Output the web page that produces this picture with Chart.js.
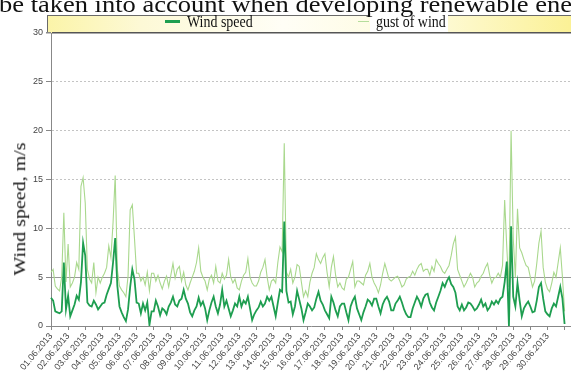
<!DOCTYPE html>
<html><head><meta charset="utf-8">
<script src="https://cdn.jsdelivr.net/npm/chart.js@4.4.0/dist/chart.umd.min.js"></script>
<style>
html,body{margin:0;padding:0;background:#fff;overflow:hidden;}
#wrap{position:relative;width:571px;height:372px;overflow:hidden;background:#fff;}
canvas{position:absolute;left:0;top:0;}
.t{position:absolute;white-space:nowrap;font-family:'Liberation Serif','Times New Roman',serif;color:#111;}
#head{left:-1px;top:-8px;font-size:24px;line-height:24px;transform-origin:0 0;}
#ytitle{left:20px;top:209px;font-size:20px;line-height:20px;transform:translate(-50%,-50%) rotate(-90deg) scaleY(0.8);}
.lg{top:12.5px;font-size:17px;line-height:17px;transform:scaleX(0.82);transform-origin:0 0;}
.sw{position:absolute;}
</style></head><body>
<div id="wrap">
<canvas id="c" width="571" height="372"></canvas>
<div id="head" class="t">be taken into account when developing renewable ene</div>
<div id="ytitle" class="t">Wind speed, m/s</div>
<div class="sw" style="left:165px;top:20px;width:15px;height:2.5px;background:#1e9e50"></div>
<div class="t lg" style="left:187px">Wind speed</div>
<div class="sw" style="left:358px;top:20.5px;width:11px;height:1.5px;background:#b5dd9c"></div>
<div class="t lg" style="left:376px">gust of wind</div>
</div>
<script>
const days = ["01.06.2013","02.06.2013","03.06.2013","04.06.2013","05.06.2013","06.06.2013","07.06.2013","08.06.2013","09.06.2013","10.06.2013",
"11.06.2013","12.06.2013","13.06.2013","14.06.2013","15.06.2013","16.06.2013","17.06.2013","18.06.2013","19.06.2013","20.06.2013",
"21.06.2013","22.06.2013","23.06.2013","24.06.2013","25.06.2013","26.06.2013","27.06.2013","28.06.2013","29.06.2013","30.06.2013"];
const hours = ["00:00","03:00","06:00","09:00","12:00","15:00","18:00","21:00"];
const yTicks = [0,5,10,15,20,25,30];

// 3-hourly wind speed, m/s
const windSpeed = [
2.9,2.6,1.5,1.4,1.3,1.5,6.5,1.7,
3.1,1.0,1.6,2.2,3.1,2.7,4.5,8.5,
7.2,2.4,2.1,2.0,2.6,2.2,1.7,2.0,
2.3,2.4,3.2,3.8,4.4,6.5,9.0,4.1,
2.0,1.4,0.9,0.5,1.7,4.0,5.8,4.8,
2.4,2.3,1.3,2.3,1.6,2.4,0.1,1.5,
1.5,2.6,2.0,1.1,1.8,1.6,1.2,2.0,
2.4,3.0,2.2,2.0,2.6,2.8,3.7,2.8,
2.3,1.4,1.0,1.6,2.0,2.9,2.1,2.5,
1.8,0.6,1.6,2.4,3.0,2.0,1.3,2.2,
3.7,2.0,2.6,1.8,1.0,1.6,2.3,2.0,
3.0,2.0,2.6,2.3,3.0,1.8,0.6,1.2,
1.6,1.9,2.5,2.0,2.3,3.0,2.6,3.0,
2.0,1.0,2.4,3.7,3.5,10.7,3.6,2.4,
2.5,1.2,2.0,3.6,2.7,1.8,0.6,1.4,
2.3,2.0,1.6,1.9,2.8,3.5,2.6,2.2,
1.6,1.2,0.8,3.0,2.4,1.6,1.0,2.0,
2.3,2.3,1.4,0.6,2.0,2.6,3.0,1.8,
1.2,0.6,1.4,2.0,2.7,2.5,2.1,2.8,
2.8,2.0,1.3,2.2,2.7,3.0,2.5,1.6,
1.6,2.3,2.6,3.0,2.4,1.7,1.2,0.9,
0.9,1.8,2.4,3.0,2.6,2.0,2.8,3.2,
3.3,2.4,1.9,1.6,2.4,3.0,3.6,4.4,
4.0,4.6,5.0,4.3,4.0,3.4,2.0,1.6,
2.2,1.6,1.9,2.4,2.3,2.0,1.6,1.8,
2.2,2.7,2.0,2.3,1.6,1.9,2.5,2.2,
2.6,2.3,2.8,3.0,4.5,6.6,0.0,10.2,
3.0,2.0,4.4,2.6,1.0,1.8,2.2,2.5,
2.0,1.4,1.5,2.6,4.0,4.4,2.8,1.5,
1.2,1.0,1.8,2.3,2.0,3.0,4.0,2.8,
0.2];

// 3-hourly gust of wind, m/s
const gustOfWind = [
5.5,5.8,4.1,3.8,3.6,5.0,11.6,4.5,
8.4,4.0,4.4,5.0,6.5,5.8,14.3,15.2,
12.6,5.8,4.8,4.4,6.5,3.4,5.0,4.4,
5.0,5.4,6.0,8.2,7.0,10.6,15.4,5.8,
4.1,3.7,3.4,3.0,5.1,11.9,12.4,9.0,
5.4,5.4,4.6,5.0,4.2,5.5,3.6,5.4,
5.4,4.6,5.2,4.4,3.8,4.6,5.1,4.0,
5.2,6.4,4.9,5.8,6.1,4.6,5.5,4.2,
3.7,4.4,5.0,5.6,6.5,8.0,5.6,5.0,
4.6,3.7,4.8,5.2,4.4,6.1,4.6,4.4,
5.4,4.8,5.2,6.8,5.0,4.4,4.8,3.9,
3.7,4.6,5.2,5.5,6.9,5.0,4.4,4.1,
4.1,4.6,5.5,6.0,6.8,5.0,3.7,4.6,
4.8,4.4,6.5,8.1,7.6,18.7,5.5,5.0,
5.8,4.4,5.0,6.3,6.1,4.5,3.0,3.6,
3.0,4.5,5.4,6.0,7.4,6.8,6.4,7.0,
7.4,5.5,4.0,6.0,7.1,5.2,4.0,4.4,
3.9,3.7,4.8,5.0,5.8,6.6,4.0,4.6,
4.6,4.4,4.2,5.2,5.6,6.4,5.0,4.4,
4.0,3.4,4.2,5.4,6.4,5.6,4.8,4.6,
4.8,5.0,5.1,4.6,4.0,4.2,4.8,5.0,
5.1,5.6,5.2,5.8,6.2,6.4,5.6,5.8,
5.8,5.2,6.1,5.6,6.8,6.4,6.1,5.6,
5.4,5.8,6.2,7.2,8.4,9.1,5.8,5.2,
4.6,4.0,4.4,4.9,5.4,5.0,4.0,4.4,
4.6,5.1,5.4,6.0,6.4,5.2,4.4,4.9,
5.0,5.4,5.0,6.2,12.9,8.0,4.0,20.0,
9.0,5.0,12.0,8.0,7.5,6.8,6.2,6.0,
5.0,4.0,4.6,6.4,8.5,9.7,6.0,4.5,
3.8,3.5,4.4,5.5,5.0,6.5,8.0,5.0,
1.5];

const labels = [];
days.forEach(d => hours.forEach(h => labels.push(d + ' ' + h)));
labels.push('01.07.2013 00:00', '', '', '');

const ptsPerDay = hours.length;

const deco = {
  id: 'deco',
  beforeDraw(chart) {
    const {ctx, chartArea: a} = chart;
    ctx.save();
    const x0 = a.left - 4;
    const g = ctx.createLinearGradient(x0, 0, a.right, 0);
    g.addColorStop(0, '#fbf4a8');
    g.addColorStop(0.18, '#fdf9d6');
    g.addColorStop(0.45, '#fffef6');
    g.addColorStop(0.72, '#fefbdc');
    g.addColorStop(1, '#fbf196');
    ctx.fillStyle = g;
    ctx.fillRect(x0, 15, a.right - x0, a.top - 15);
    ctx.fillStyle = '#ffffff';
    ctx.fillRect(370, 13, 78, a.top - 13);
    ctx.strokeStyle = '#6a6a6a';
    ctx.lineWidth = 1;
    ctx.beginPath();
    ctx.moveTo(x0, 15.5); ctx.lineTo(370, 15.5);
    ctx.moveTo(448, 15.5); ctx.lineTo(a.right, 15.5);
    ctx.moveTo(x0 + 0.5, 15); ctx.lineTo(x0 + 0.5, a.top);
    ctx.stroke();
    ctx.restore();
  }
};

new Chart(document.getElementById('c'), {
  type: 'line',
  data: {
    labels: labels,
    datasets: [
      {label: 'Wind speed', data: windSpeed, borderColor: '#1e9e50', borderWidth: 1.8, pointRadius: 0, tension: 0, fill: false},
      {label: 'gust of wind', data: gustOfWind, borderColor: '#a9d88d', borderWidth: 1.1, pointRadius: 0, tension: 0, fill: false}
    ]
  },
  options: {
    responsive: false,
    animation: false,
    events: [],
    layout: {padding: {top: 33, left: 0, right: 0, bottom: 0}},
    plugins: {legend: {display: false}, tooltip: {enabled: false}, title: {display: false}},
    scales: {
      x: {
        type: 'category',
        ticks: {
          autoSkip: false, minRotation: 50, maxRotation: 50, padding: 1,
          color: '#444', font: {family: 'Liberation Sans', size: 9},
          callback: (v, i) => {
            if (i % ptsPerDay !== 0) return null;
            const d = i / ptsPerDay;
            return d < days.length ? days[d] : (d === days.length ? '' : null);
          }
        },
        grid: {display: true, drawOnChartArea: false, drawTicks: true, tickLength: 4, color: '#888'},
        border: {display: true, color: '#888'},
        afterFit(s) { s.height = 46; s.paddingLeft = 0; s.paddingRight = 0; }
      },
      y: {
        min: 0, max: 30,
        afterBuildTicks(s) { s.ticks = yTicks.map(v => ({value: v})); },
        ticks: {color: '#444', font: {family: 'Liberation Sans', size: 9}, padding: 3},
        grid: {
          color: c => {
            const v = c.tick ? c.tick.value : null;
            if (v === 0) return 'rgba(0,0,0,0)';
            if (v === 30) return '#555';
            if (v === 5) return '#999';
            return '#c4c4c4';
          },
          tickColor: '#888', tickLength: 5, tickBorderDash: [], lineWidth: c => (c.tick && c.tick.value === 30) ? 1.5 : 1
        },
        border: {display: true, color: '#888', dash: c => {
          const v = c.tick ? c.tick.value : null;
          return (v === 5 || v === 30) ? [] : [2, 2];
        }},
        afterFit(s) { s.width = 51; }
      }
    }
  },
  plugins: [deco]
});

const head = document.getElementById('head');
const hw = head.getBoundingClientRect().width;
head.style.transform = 'scaleX(' + (573 / hw) + ')';
</script>
</body></html>
